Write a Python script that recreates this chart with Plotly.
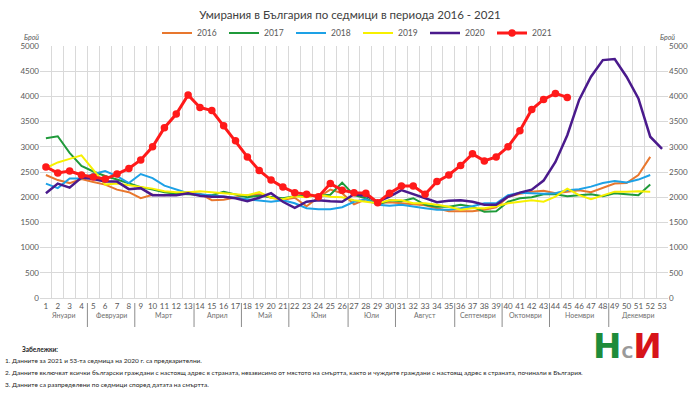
import plotly.graph_objects as go

weeks = list(range(1, 54))

y2016 = [2440, 2340, 2280, 2360, 2300, 2250, 2150, 2100, 1980, 2050,
         2040, 2070, 2100, 2070, 1940, 1950, 2000, 2040, 2060, 1990,
         1950, 1990, 1820, 2000, 2150, 2080, 1860, 1960, 1880, 1900,
         1880, 1860, 1840, 1780, 1720, 1720, 1720, 1750, 1800, 2010,
         2070, 2110, 2130, 2080, 2110, 2140, 2100, 2180, 2270, 2280,
         2440, 2800]
y2017 = [3170, 3210, 2880, 2620, 2510, 2420, 2350, 2280, 2200, 2150,
         2100, 2070, 2060, 2050, 2040, 2110, 2060, 2000, 2030, 2000,
         1980, 2020, 2040, 2030, 2050, 2290, 2040, 1980, 1850, 1940,
         1920, 1980, 1850, 1810, 1810, 1850, 1810, 1710, 1720, 1910,
         1980, 2000, 2060, 2060, 2020, 2040, 2060, 2020, 2080, 2060,
         2040, 2250]
y2018 = [2270, 2180, 2370, 2370, 2460, 2520, 2420, 2280, 2460, 2380,
         2230, 2150, 2080, 2060, 2040, 2020, 1990, 1960, 1930, 1910,
         1940, 1880, 1780, 1760, 1760, 1800, 1910, 1960, 1850, 1830,
         1850, 1810, 1780, 1750, 1750, 1780, 1820, 1880, 1880, 2040,
         2090, 2080, 2070, 2080, 2140, 2160, 2210, 2280, 2320, 2290,
         2350, 2440]
y2019 = [2580, 2690, 2760, 2830, 2540, 2250, 2270, 2240, 2200, 2170,
         2120, 2100, 2100, 2120, 2100, 2080, 2060, 2040, 2100, 1990,
         1960, 2020, 2000, 2050, 2010, 2000, 1940, 1910, 1880, 1940,
         1940, 1880, 1880, 1850, 1810, 1750, 1780, 1780, 1820, 1880,
         1910, 1940, 1910, 2010, 2170, 2040, 1960, 2040, 2110, 2110,
         2120, 2110]
y2020 = [2080, 2270, 2190, 2390, 2360, 2310, 2310, 2160, 2180, 2040,
         2040, 2040, 2080, 2030, 2010, 2010, 1980, 1920, 1990, 2080,
         1910, 1790, 1910, 1940, 1920, 1910, 2060, 2030, 1910, 2010,
         2140, 2060, 1980, 1900, 1930, 1940, 1910, 1850, 1850, 2010,
         2090, 2150, 2330, 2700, 3230, 3930, 4390, 4720, 4740, 4390,
         3960, 3200, 2960]
y2021 = [2600, 2480, 2520, 2440, 2400, 2360, 2460, 2570, 2740, 3000,
         3380, 3650, 4030, 3780, 3720, 3420, 3120, 2800, 2530, 2340,
         2200, 2090, 2060, 2010, 2270, 2140, 2090, 2080, 1890, 2080,
         2220, 2220, 2060, 2310, 2440, 2630, 2860, 2720, 2800, 3000,
         3320, 3740, 3940, 4060, 3980]

y_ticks = list(range(0, 5001, 500))
months = ["Януари", "Февруари", "Март", "Април", "Май", "Юни", "Юли",
          "Август", "Септември", "Октомври", "Ноември", "Декември"]
month_end_weeks = [4, 8, 13, 17, 21, 26, 30, 35, 39, 43, 48, 53]

title_text = "Умирания в България по седмици в периода 2016 - 2021"
notes_title = "Забележки:"
notes = [
    "1. Данните за 2021 и 53-та седмица на 2020 г. са предварителни.",
    "2. Данните включват всички български граждани с настоящ адрес в страната, независимо от мястото на смъртта, както и чуждите граждани с настоящ адрес в страната, починали в България.",
    "3. Данните са разпределени по седмици според датата на смъртта.",
]

series = [
    ("2016", y2016, "#E8772E", 2),
    ("2017", y2017, "#1F9A3A", 2),
    ("2018", y2018, "#1DA1E6", 2),
    ("2019", y2019, "#F7F000", 2),
    ("2020", y2020, "#4A1A8C", 2.5),
]

FONT = "Lato"
fig = go.Figure()
for name, ys, col, w in series:
    fig.add_trace(go.Scatter(x=weeks[:len(ys)], y=ys, name=name, mode="lines",
                             line=dict(color=col, width=w)))
fig.add_trace(go.Scatter(x=weeks[:len(y2021)], y=y2021, name="2021", mode="lines+markers",
                         line=dict(color="#FF1A1A", width=3),
                         marker=dict(color="#FF1A1A", size=7.5)))
# invisible trace to activate the right-hand axis
fig.add_trace(go.Scatter(x=weeks[:len(y2021)], y=y2021, yaxis="y2", mode="lines",
                         line=dict(color="rgba(0,0,0,0)"), showlegend=False,
                         hoverinfo="skip"))

ph = 252.0
def py(pix):
    return (298 - pix) / ph

def px(pix):
    return (pix - 40) / 628.0

grid_col = "#D9D9D9"
fig.update_layout(
    width=700, height=395,
    margin=dict(l=40, r=32, t=46, b=97),
    paper_bgcolor="white", plot_bgcolor="white",
    font=dict(family=FONT, color="#595959", size=8),
    title=dict(text=title_text, x=0.5, xanchor="center", y=1 - 15 / 395, yanchor="middle",
               font=dict(family=FONT, size=11.5, color="#404040")),
    legend=dict(orientation="h", x=px(358), xanchor="center", y=py(33), yanchor="middle",
                font=dict(family=FONT, size=8.5, color="#595959"),
                itemwidth=30, entrywidth=22, entrywidthmode="pixels",
                bgcolor="rgba(0,0,0,0)"),
    showlegend=True,
    xaxis=dict(range=[0.5, 53.5], tickmode="array", tickvals=weeks,
               ticktext=[str(w) for w in weeks], showgrid=False, zeroline=False,
               showline=True, linecolor=grid_col, ticks="", tickfont=dict(size=8, color="#595959"),
               minor=dict(tickmode="array", tickvals=[w + 0.5 for w in [0] + weeks],
                          showgrid=True, gridcolor=grid_col, gridwidth=1, ticks="")),
    yaxis=dict(range=[0, 5000], tickmode="array", tickvals=y_ticks, showgrid=True,
               gridcolor=grid_col, zeroline=False, ticks="",
               tickfont=dict(size=8, color="#595959")),
    yaxis2=dict(range=[0, 5000], overlaying="y", side="right", tickmode="array",
                tickvals=y_ticks, showgrid=False, zeroline=False, ticks="",
                tickfont=dict(size=8, color="#595959")),
)

ann = []
ann.append(dict(text="<i>Брой</i>", xref="paper", yref="paper", x=px(22), y=py(31),
                showarrow=False, font=dict(size=7, color="#595959")))
ann.append(dict(text="<i>Брой</i>", xref="paper", yref="paper", x=px(677), y=py(31),
                showarrow=False, font=dict(size=7, color="#595959")))
start = 1
for m, end in zip(months, month_end_weeks):
    ann.append(dict(text=m, xref="x", yref="paper", x=(start + end) / 2, y=py(321),
                    showarrow=False, font=dict(size=7, color="#6E6E6E")))
    start = end + 1
shapes = []
for end in month_end_weeks[:-1]:
    shapes.append(dict(type="line", xref="x", yref="paper", x0=end + 0.5, x1=end + 0.5,
                       y0=py(303), y1=py(327), line=dict(color="#8C8C8C", width=1)))
ann.append(dict(text="<b>" + notes_title + "</b>", xref="paper", yref="paper", x=px(20),
                xanchor="left", y=py(355), showarrow=False, font=dict(size=6.5, color="#262626")))
for i, t in enumerate(notes):
    ann.append(dict(text=t, xref="paper", yref="paper", x=px(3), xanchor="left",
                    y=py(366 + i * 12), showarrow=False, font=dict(size=6.5, color="#262626")))
# logo (НСИ)
logo = ("<b><span style='color:#1E8C3A'>Н</span>"
        "<span style='font-size:16px;color:#9A9A9A'>С</span>"
        "<span style='color:#D7141A'>И</span></b>")
ann.append(dict(text=logo, xref="paper", yref="paper", x=px(664), y=py(368),
                showarrow=False, font=dict(size=34, family="DejaVu Sans")))
fig.update_layout(annotations=ann, shapes=shapes)

fig.write_html("out.html", config={"displayModeBar": False},
               post_script="document.body.style.margin='0';")
